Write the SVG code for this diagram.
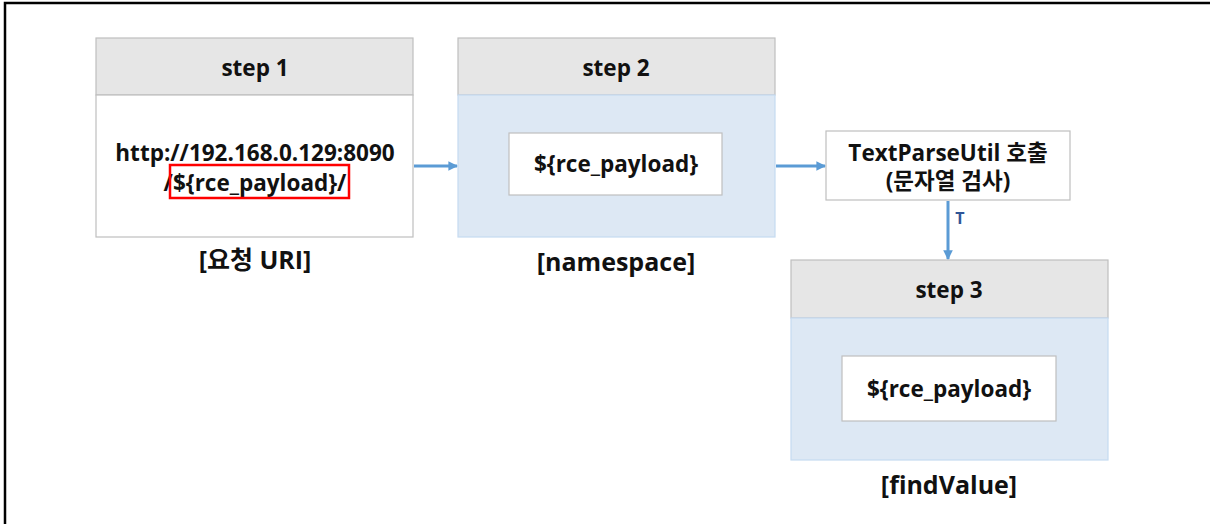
<svg xmlns="http://www.w3.org/2000/svg" width="1210" height="524" viewBox="0 0 1210 524">
<style>
text{font-family:"Open Sans","Noto Sans CJK KR",sans-serif;font-weight:bold;fill:#111;text-anchor:middle}
.t{font-size:22.5px}
.lb{font-size:25px}
.hdr{fill:#e6e6e6;stroke:#bfbfbf;stroke-width:1.2}
.wb{fill:#fff;stroke:#bfbfbf;stroke-width:1.2}
.bb{fill:#dde8f4;stroke:#c5daf0;stroke-width:1.2}
.c{stroke:#5b9bd5;stroke-width:3;fill:none;marker-end:url(#ah)}
</style>
<defs>
<marker id="ah" viewBox="0 0 10 10" refX="9" refY="5" markerWidth="3.2" markerHeight="3.2" orient="auto" markerUnits="strokeWidth">
<path d="M0,0 L10,5 L0,10 z" fill="#5b9bd5"/>
</marker>
</defs>
<rect width="1210" height="524" fill="#fff"/>
<path d="M5,524 V3 H1210" fill="none" stroke="#000" stroke-width="2.5"/>
<g id="step1">
<rect class="hdr" x="96" y="38" width="317" height="57"/>
<rect class="wb" x="96" y="95" width="317" height="142"/>
<text class="t" x="255" y="76">step 1</text>
<text class="t" x="255" y="161">http://192.168.0.129:8090</text>
<text class="t" x="255" y="191">/${rce_payload}/</text>
<rect x="170" y="165" width="179" height="33" fill="none" stroke="#ff0000" stroke-width="2.5"/>
<text class="lb" x="255" y="269">[요청 URI]</text>
</g>
<g id="step2">
<rect class="hdr" x="458" y="38" width="317" height="57"/>
<rect class="bb" x="458" y="95" width="317" height="142"/>
<rect class="wb" x="509" y="133" width="213" height="62"/>
<text class="t" x="616" y="76">step 2</text>
<text class="t" x="616" y="172">${rce_payload}</text>
<text class="lb" x="616" y="271">[namespace]</text>
</g>
<g id="parse">
<rect class="wb" x="826" y="131" width="244" height="69"/>
<text class="t" x="948" y="161">TextParseUtil 호출</text>
<text class="t" x="948" y="189">(문자열 검사)</text>
</g>
<g id="step3">
<rect class="hdr" x="791" y="260" width="317" height="58"/>
<rect class="bb" x="791" y="318" width="317" height="142"/>
<rect class="wb" x="842" y="356" width="214" height="65"/>
<text class="t" x="949" y="298">step 3</text>
<text class="t" x="949" y="397">${rce_payload}</text>
<text class="lb" x="949" y="494">[findValue]</text>
</g>
<g id="connectors">
<line class="c" x1="414" y1="166" x2="457" y2="166"/>
<line class="c" x1="776" y1="166" x2="825" y2="166"/>
<line class="c" x1="948" y1="201" x2="948" y2="259"/>
<text x="960" y="224" style="font-size:16px;fill:#2f5597">T</text>
</g>
</svg>
